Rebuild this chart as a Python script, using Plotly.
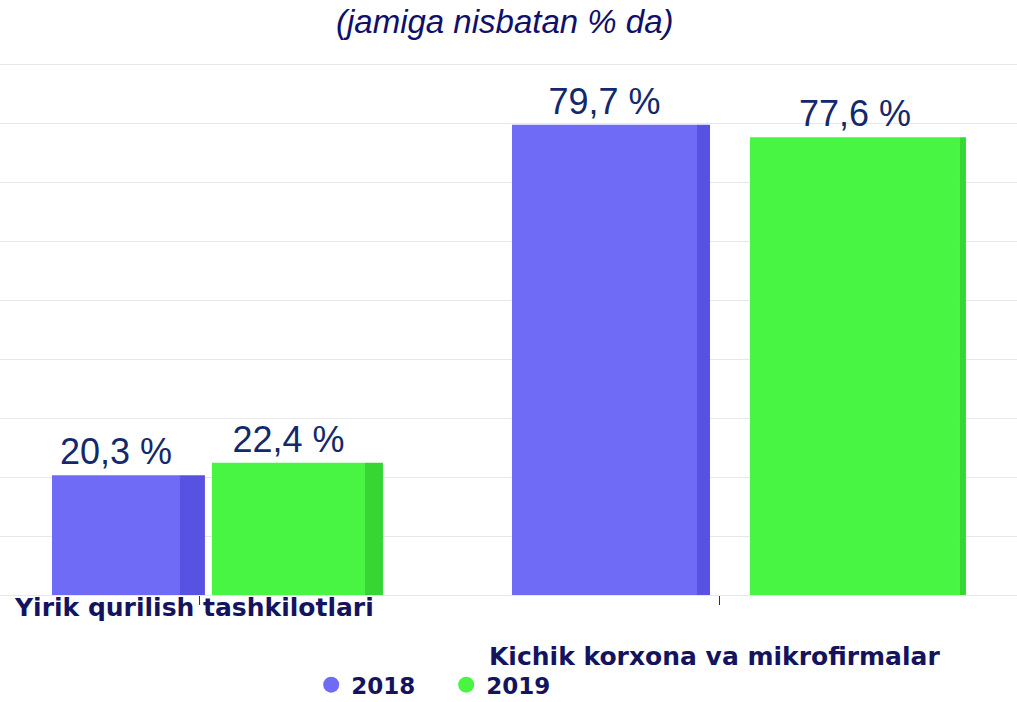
import plotly.graph_objects as go

categories = ["Yirik qurilish tashkilotlari", "Kichik korxona va mikrofirmalar"]
years = ["2018", "2019"]
values_2018 = [20.3, 79.7]
values_2019 = [22.4, 77.6]
title_text = "(jamiga nisbatan % da)"

col_2018 = "#6f6bf7"
col_2018_side = "#5852e2"
col_2019 = "#47f542"
col_2019_side = "#36d633"
navy_val = "#13296b"
navy_txt = "#14145e"

xpos = [0, 1]

fig = go.Figure()

# front faces
fig.add_trace(go.Bar(
    x=xpos, y=values_2018, name=years[0], showlegend=False,
    width=[0.2462, 0.3558], offset=[-0.2846, -0.40],
    marker=dict(color=col_2018, line=dict(width=0)),
    texttemplate="%{y:.1f} %", textposition="outside",
    textfont=dict(family="Liberation Sans, Arial", size=36, color=navy_val),
    cliponaxis=False, constraintext="none",
))
fig.add_trace(go.Bar(
    x=xpos, y=values_2018, showlegend=False, hoverinfo="skip",
    width=[0.048, 0.025], offset=[-0.0385, -0.0442],
    marker=dict(color=col_2018_side, line=dict(width=0)),
))
fig.add_trace(go.Bar(
    x=xpos, y=values_2019, name=years[1], showlegend=False,
    width=[0.2942, 0.4038], offset=[0.0231, 0.0577],
    marker=dict(color=col_2019, line=dict(width=0)),
    texttemplate="%{y:.1f} %", textposition="outside",
    textfont=dict(family="Liberation Sans, Arial", size=36, color=navy_val),
    cliponaxis=False, constraintext="none",
))
fig.add_trace(go.Bar(
    x=xpos, y=values_2019, showlegend=False, hoverinfo="skip",
    width=[0.0346, 0.0115], offset=[0.3173, 0.4615],
    marker=dict(color=col_2019_side, line=dict(width=0)),
))

# legend entries with round symbols
for yr, col in zip(years, [col_2018, col_2019]):
    fig.add_trace(go.Scatter(
        x=[None], y=[None], mode="markers", name=yr,
        marker=dict(symbol="circle", size=17, color=col),
    ))

fig.update_layout(
    width=1017, height=702,
    margin=dict(l=0, r=0, t=5, b=107, autoexpand=False),
    barmode="overlay",
    separators=", ",
    plot_bgcolor="white", paper_bgcolor="white",
    showlegend=True,
    legend=dict(
        orientation="h", x=0.306, xanchor="left", y=-0.152, yanchor="middle",
        font=dict(family="DejaVu Sans", size=23, color=navy_txt, weight="bold"),
        bgcolor="rgba(0,0,0,0)", itemwidth=30, traceorder="normal",
        entrywidth=90, entrywidthmode="pixels",
    ),
    xaxis=dict(
        range=[-0.3846, 1.5712], tickvals=xpos, ticktext=["", ""],
        showgrid=False, zeroline=False, showline=False,
        ticks="outside", ticklen=9, tickwidth=1, tickcolor="#333333",
        fixedrange=True,
    ),
    yaxis=dict(
        range=[0, 100], dtick=10, showticklabels=False,
        showgrid=True, gridcolor="#e8e8e8", gridwidth=1,
        zeroline=True, zerolinecolor="#e8e8e8", zerolinewidth=1,
        showline=False, fixedrange=True,
    ),
    annotations=[
        dict(text=title_text, xref="paper", yref="paper", x=0.497, y=0.9712,
             xanchor="center", yanchor="middle", showarrow=False,
             font=dict(family="Liberation Sans, Arial", size=33, color="#10106a",
                       style="italic")),
        dict(text=categories[0], xref="paper", yref="paper", x=0.0118, y=-0.022,
             xanchor="left", yanchor="middle", showarrow=False,
             font=dict(family="DejaVu Sans", size=25, color=navy_txt, weight="bold")),
        dict(text=categories[1], xref="paper", yref="paper", x=0.479, y=-0.105,
             xanchor="left", yanchor="middle", showarrow=False,
             font=dict(family="DejaVu Sans", size=25, color=navy_txt, weight="bold")),
    ],
)

fig.write_html("out.html", config={"displayModeBar": False},
               post_script="document.body.style.margin='0px';")
